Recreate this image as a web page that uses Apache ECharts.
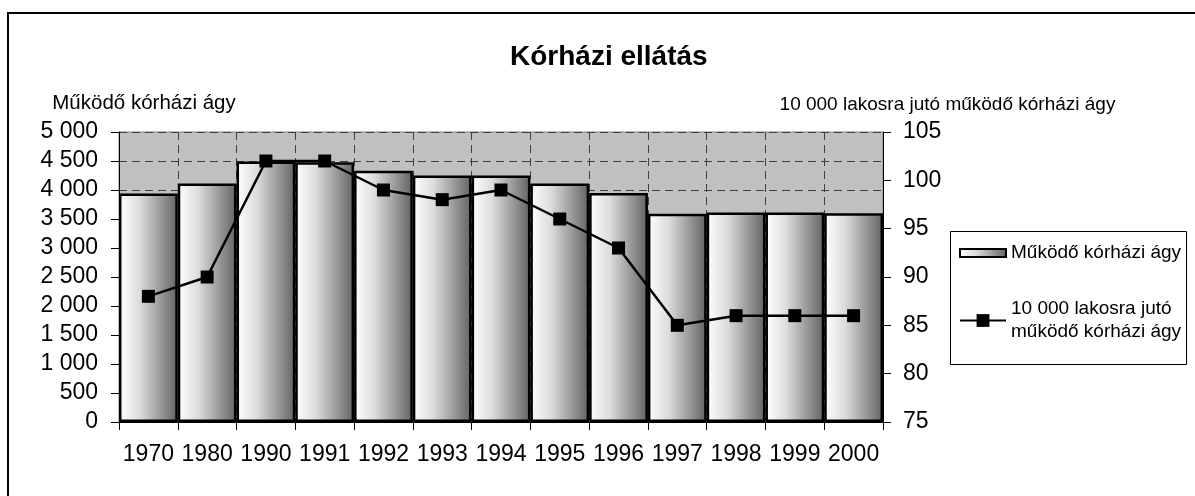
<!DOCTYPE html>
<html>
<head>
<meta charset="utf-8">
<title>Kórházi ellátás</title>
<script src="https://cdn.jsdelivr.net/npm/echarts@6/dist/echarts.min.js"></script>
<style>
    html, body { margin: 0; padding: 0; background: #fff; }
    #chart { width: 1195px; height: 496px; }
</style>
</head>
<body>
<div id="chart"></div>
<script>
    'use strict';

    // évek
    var years = ['1970', '1980', '1990', '1991', '1992', '1993', '1994', '1995', '1996', '1997', '1998', '1999', '2000'];

    // működő kórházi ágyak száma
    var beds = [3940, 4110, 4490, 4480, 4330, 4250, 4250, 4110, 3950, 3590, 3610, 3610, 3600];

    // 10 000 lakosra jutó működő kórházi ágy
    var bedsPer10k = [88, 90, 102, 102, 99, 98, 99, 96, 93, 85, 86, 86, 86];

    var bedsName = 'Működő kórházi ágy';
    var perName = '10 000 lakosra jutó működő kórházi ágy';

    var font = "'Liberation Sans', Arial, sans-serif";

    function thousands(v) {
        return String(v).replace(/\B(?=(\d{3})+(?!\d))/g, ' ');
    }

    var chart = echarts.init(document.getElementById('chart'));

    var barColor = new echarts.graphic.LinearGradient(0, 0, 1, 0, [
        { offset: 0, color: '#ffffff' },
        { offset: 0.35, color: '#dcdcdc' },
        { offset: 1, color: '#626262' }
    ]);

    var dashed = { color: '#404040', width: 1, type: [8, 5] };

    chart.setOption({
        animation: false,
        textStyle: { fontFamily: font, color: '#000' },
        title: {
            text: 'Kórházi ellátás',
            left: 510,
            top: 43,
            padding: 0,
            textStyle: { fontFamily: font, fontSize: 28, fontWeight: 'bold', color: '#000' }
        },
        graphic: [
            {
                type: 'rect',
                shape: { x: 8, y: 13, width: 1300, height: 600 },
                style: { fill: 'none', stroke: '#000', lineWidth: 2 },
                silent: true
            },
            {
                type: 'rect',
                shape: { x: 950.5, y: 231.5, width: 236, height: 133 },
                style: { fill: '#fff', stroke: '#000', lineWidth: 1 },
                silent: true,
                z: 1
            }
        ],
        legend: [
            {
                data: [{ name: bedsName, icon: 'rect' }],
                left: 959,
                top: 241.5,
                padding: 0,
                itemWidth: 46,
                itemHeight: 8,
                itemGap: 5,
                z: 5,
                textStyle: { fontFamily: font, fontSize: 19, lineHeight: 23, color: '#000' }
            },
            {
                data: [perName],
                left: 959,
                top: 286,
                padding: 0,
                itemWidth: 46,
                itemHeight: 16,
                z: 5,
                formatter: function() {
                    return '10 000 lakosra jutó\nműködő kórházi ágy';
                },
                textStyle: { fontFamily: font, fontSize: 19, lineHeight: 23, color: '#000', padding: [23, 0, 0, 0] }
            }
        ],
        grid: {
            left: 119,
            right: 312,
            top: 132,
            bottom: 74,
            show: true,
            backgroundColor: '#c0c0c0',
            borderColor: '#808080',
            borderWidth: 1
        },
        xAxis: {
            type: 'category',
            data: years,
            boundaryGap: true,
            axisLine: { lineStyle: { color: '#000', width: 1 } },
            axisTick: { show: true, length: 8, lineStyle: { color: '#000' } },
            axisLabel: { fontFamily: font, fontSize: 23, color: '#000', margin: 21, interval: 0 },
            splitLine: { show: true, interval: 0, lineStyle: dashed }
        },
        yAxis: [
            {
                type: 'value',
                min: 0,
                max: 5000,
                interval: 500,
                name: bedsName,
                nameLocation: 'end',
                nameGap: 18,
                nameTextStyle: { fontFamily: font, fontSize: 20.5, color: '#000', align: 'center', padding: [0, 0, 0, 50] },
                axisLine: { show: true, lineStyle: { color: '#000', width: 1 } },
                axisTick: { show: true, length: 8, lineStyle: { color: '#000' } },
                axisLabel: {
                    fontFamily: font, fontSize: 23, color: '#000', margin: 21,
                    formatter: thousands
                },
                splitLine: { show: true, lineStyle: dashed }
            },
            {
                type: 'value',
                min: 75,
                max: 105,
                interval: 5,
                position: 'right',
                name: perName,
                nameLocation: 'end',
                nameGap: 18,
                nameTextStyle: { fontFamily: font, fontSize: 19, color: '#000', align: 'center', padding: [0, 0, 0, 129] },
                axisLine: { show: true, lineStyle: { color: '#000', width: 1 } },
                axisTick: { show: true, length: 8, lineStyle: { color: '#000' } },
                axisLabel: { fontFamily: font, fontSize: 23, color: '#000', margin: 20 },
                splitLine: { show: false }
            }
        ],
        series: [
            {
                name: bedsName,
                type: 'bar',
                data: beds,
                yAxisIndex: 0,
                barCategoryGap: '0%',
                itemStyle: { color: barColor, borderColor: '#000', borderWidth: 2.5 }
            },
            {
                name: perName,
                type: 'line',
                data: bedsPer10k,
                yAxisIndex: 1,
                symbol: 'rect',
                symbolSize: 13,
                lineStyle: { color: '#000', width: 2.5 },
                itemStyle: { color: '#000' },
                z: 3
            }
        ]
    });
</script>
</body>
</html>
